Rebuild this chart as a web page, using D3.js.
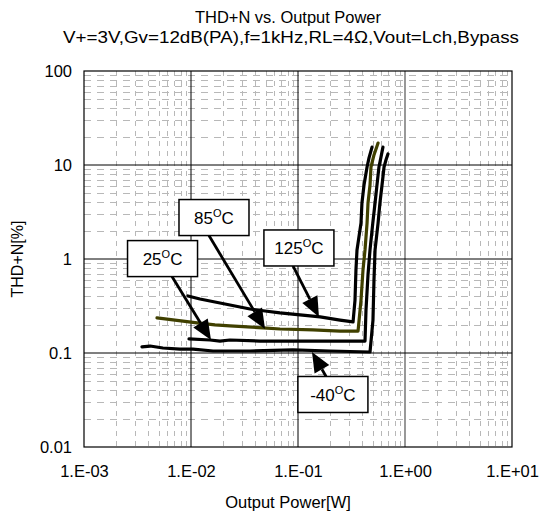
<!DOCTYPE html>
<html><head><meta charset="utf-8">
<script src="https://cdn.jsdelivr.net/npm/d3@7/dist/d3.min.js"></script>
<style>
body{margin:0;background:#fff}
svg{display:block}
text{font-family:"Liberation Sans",Arial,sans-serif;fill:#000}
</style>
</head><body>
<svg id="chart" width="542" height="513"></svg>
<script>
// ---- text ----
const titleLines = ["THD+N vs. Output Power", "V+=3V,Gv=12dB(PA),f=1kHz,RL=4Ω,Vout=Lch,Bypass"];
const xLabel = "Output Power[W]";
const yLabel = "THD+N[%]";

// ---- ticks ----
const xTickValues = [1e-3, 1e-2, 1e-1, 1e0, 1e1];
const xTickLabels = ["1.E-03", "1.E-02", "1.E-01", "1.E+00", "1.E+01"];
const yTickValues = [0.01, 0.1, 1, 10, 100];
const yTickLabels = ["0.01", "0.1", "1", "10", "100"];

// ---- series (Output power [W], THD+N [%]) ----
const seriesNames = ["125", "85", "25", "-40"];
const pow125 = [0.00937,0.01213,0.01675,0.0258,0.0356,0.0492,0.0679,0.1045,0.161,0.247,0.327,0.341,0.348,0.356,0.388,0.396,0.414,0.442,0.461,0.492];
const thd125 = [0.404,0.375,0.349,0.316,0.294,0.280,0.267,0.254,0.242,0.224,0.214,0.366,0.764,1.25,2.41,3.94,6.12,9.52,11.9,15.5];
const pow85 = [0.00481,0.00708,0.01138,0.01675,0.0231,0.0471,0.0679,0.138,0.247,0.364,0.388,0.405,0.423,0.442,0.451,0.471,0.481,0.513,0.560];
const thd85 = [0.236,0.224,0.209,0.199,0.194,0.185,0.180,0.176,0.171,0.171,0.366,0.764,1.25,2.41,3.94,6.12,9.52,12.8,17.1];
const pow25 = [0.00957,0.01508,0.01866,0.0231,0.0442,0.1045,0.247,0.423,0.432,0.451,0.471,0.50,0.525,0.547,0.571,0.597,0.622];
const thd25 = [0.141,0.1375,0.134,0.1375,0.134,0.134,0.134,0.134,0.287,0.676,1.25,2.41,3.94,6.12,9.52,12.2,15.5];
const powM40 = [0.00348,0.00414,0.00547,0.00789,0.01045,0.01607,0.0356,0.0897,0.199,0.471,0.502,0.513,0.525,0.560,0.583,0.610,0.637,0.664,0.693];
const thdM40 = [0.116,0.1186,0.113,0.110,0.110,0.105,0.105,0.1077,0.105,0.1025,0.224,0.598,1.25,2.41,3.94,6.12,9.52,11.3,13.1];
const seriesColors = ["#000000", "#404000", "#000000", "#000000"];

// ---- callouts: label, box centre (data), arrow start x (data), arrow tip (data) ----
const calloutLabels = ["25", "85", "125", "-40"];
const calloutBoxX = [0.00542, 0.0164, 0.102, 0.212];
const calloutBoxY = [1.01, 2.76, 1.31, 0.0362];
const calloutStartX = [0.00664, 0.01472, 0.0897, 0.183];
const calloutTipX = [0.01538, 0.0492, 0.157, 0.135];
const calloutTipY = [0.1375, 0.180, 0.242, 0.1025];

// ---- layout ----
const plot = {left: 84, right: 512, top: 71, bottom: 447};
const svg = d3.select("#chart");
const FONT = '"Liberation Sans",Arial,sans-serif';

const x = d3.scaleLog().domain([1e-3, 1e1]).range([plot.left, plot.right]);
const y = d3.scaleLog().domain([0.01, 100]).range([plot.bottom, plot.top]);

// minor grid values
const minorX = [], minorY = [];
for (let e = -3; e < 1; e++) for (let m = 2; m <= 9; m++) minorX.push(m * Math.pow(10, e));
for (let e = -2; e < 2; e++) for (let m = 2; m <= 9; m++) minorY.push(m * Math.pow(10, e));

const g = svg.append("g");
// minor grid
g.append("g").selectAll("line").data(minorX).join("line")
  .attr("x1", d => Math.round(x(d)) + 0.5).attr("x2", d => Math.round(x(d)) + 0.5)
  .attr("y1", plot.top).attr("y2", plot.bottom)
  .attr("stroke", "#b8b8b8").attr("stroke-width", 1).attr("stroke-dasharray", "5,5");
g.append("g").selectAll("line").data(minorY).join("line")
  .attr("y1", d => Math.round(y(d)) + 0.5).attr("y2", d => Math.round(y(d)) + 0.5)
  .attr("x1", plot.left).attr("x2", plot.right)
  .attr("stroke", "#b8b8b8").attr("stroke-width", 1).attr("stroke-dasharray", "7,6");
// major grid
g.append("g").selectAll("line").data(xTickValues.slice(1, -1)).join("line")
  .attr("x1", d => x(d)).attr("x2", d => x(d))
  .attr("y1", plot.top).attr("y2", plot.bottom)
  .attr("stroke", d => d === 1 ? "#7f7f7f" : "#000")
  .attr("stroke-width", d => d === 1 ? 1.6 : 1);
g.append("g").selectAll("line").data(yTickValues.slice(1, -1)).join("line")
  .attr("y1", d => y(d)).attr("y2", d => y(d))
  .attr("x1", plot.left).attr("x2", plot.right)
  .attr("stroke", "#000").attr("stroke-width", 1);
// frame
g.append("rect").attr("x", plot.left).attr("y", plot.top)
  .attr("width", plot.right - plot.left).attr("height", plot.bottom - plot.top)
  .attr("fill", "none").attr("stroke", "#000").attr("stroke-width", 1.2);

// axes (labels only, via d3 axes)
const xAxis = d3.axisBottom(x).tickValues(xTickValues)
  .tickFormat((d, i) => xTickLabels[i]).tickSize(0).tickPadding(0);
const gx = svg.append("g").attr("transform", `translate(0,${plot.bottom})`).call(xAxis);
gx.select(".domain").remove();
gx.selectAll("text").attr("font-size", 16.5).attr("font-family", FONT)
  .attr("fill", "#000").attr("dy", null).attr("y", 30);

const yAxis = d3.axisLeft(y).tickValues(yTickValues)
  .tickFormat((d, i) => yTickLabels[i]).tickSize(0).tickPadding(0);
const gy = svg.append("g").attr("transform", `translate(72,0)`).call(yAxis);
gy.select(".domain").remove();
gy.selectAll("text").attr("font-size", 16.5).attr("font-family", FONT)
  .attr("fill", "#000").attr("x", 0).attr("dy", "0.35em");

// titles
svg.append("text").attr("x", 288).attr("y", 23).attr("text-anchor", "middle")
  .attr("font-size", 17).attr("textLength", 186).attr("lengthAdjust", "spacingAndGlyphs")
  .text(titleLines[0]);
svg.append("text").attr("x", 291).attr("y", 43).attr("text-anchor", "middle")
  .attr("font-size", 17).attr("textLength", 456).attr("lengthAdjust", "spacingAndGlyphs")
  .text(titleLines[1]);
svg.append("text").attr("x", 288).attr("y", 508).attr("text-anchor", "middle")
  .attr("font-size", 16.5).text(xLabel);
svg.append("text").attr("transform", `translate(23,${(plot.top + plot.bottom) / 2}) rotate(-90)`)
  .attr("text-anchor", "middle").attr("font-size", 16).text(yLabel);

// curves
const seriesP = [pow125, pow85, pow25, powM40];
const seriesT = [thd125, thd85, thd25, thdM40];
const line = d3.line().x(d => x(d[0])).y(d => y(d[1]));
const curves = svg.append("g");
seriesNames.forEach((n, i) => {
  const pts = seriesP[i].map((p, j) => [p, seriesT[i][j]]);
  curves.append("path").datum(pts).attr("d", line)
    .attr("fill", "none").attr("stroke", seriesColors[i]).attr("stroke-width", 3.2)
    .attr("stroke-linejoin", "round").attr("stroke-linecap", "round");
});

// callouts
const boxW = 70, boxH = 36;
const ann = svg.append("g");
calloutLabels.forEach((lab, i) => {
  const cx = x(calloutBoxX[i]), cy = y(calloutBoxY[i]);
  const tx = x(calloutTipX[i]), ty = y(calloutTipY[i]);
  const sx = x(calloutStartX[i]);
  const sy = ty > cy ? cy + boxH / 2 : cy - boxH / 2;
  const dx = tx - sx, dy = ty - sy, L = Math.hypot(dx, dy), ux = dx / L, uy = dy / L;
  const hl = 20, hw = 8.5;
  const bx = tx - ux * hl, by = ty - uy * hl;
  ann.append("line").attr("x1", sx).attr("y1", sy).attr("x2", bx).attr("y2", by)
    .attr("stroke", "#000").attr("stroke-width", 2.8);
  ann.append("polygon")
    .attr("points", [[tx, ty], [bx - uy * hw, by + ux * hw], [bx + uy * hw, by - ux * hw]].map(p => p.join(",")).join(" "))
    .attr("fill", "#000");
  ann.append("rect").attr("x", cx - boxW / 2).attr("y", cy - boxH / 2)
    .attr("width", boxW).attr("height", boxH)
    .attr("fill", "#fff").attr("stroke", "#000").attr("stroke-width", 1.5);
  const t = ann.append("text").attr("x", cx).attr("y", cy + 6.5)
    .attr("text-anchor", "middle").attr("font-size", 17);
  t.append("tspan").text(lab);
  t.append("tspan").attr("font-size", 11).attr("dy", -7).text("O");
  t.append("tspan").attr("dy", 7).text("C");
});
</script>
</body></html>
